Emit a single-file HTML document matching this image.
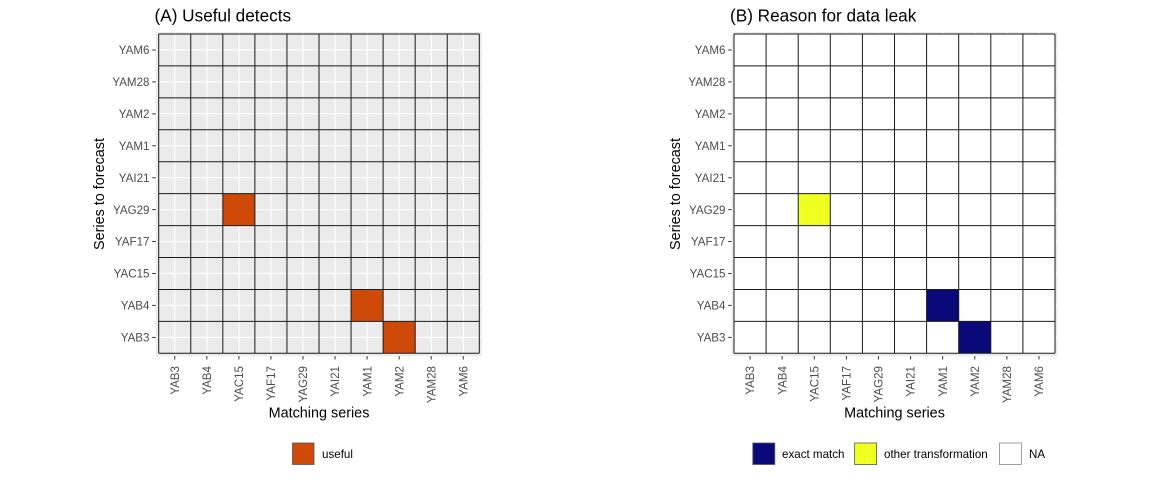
<!DOCTYPE html>
<html><head><meta charset="utf-8"><style>
html,body{margin:0;padding:0;background:#fff;}
svg{display:block;font-family:"Liberation Sans",Arial,sans-serif;}
.tl{font-size:11.6px;fill:#4D4D4D;}
.at{font-size:14.4px;fill:#000;}
.tt{font-size:17.2px;fill:#000;}
.lg{font-size:11.6px;fill:#000;}
</style></head><body>
<svg width="1152" height="480" viewBox="0 0 1152 480" xmlns="http://www.w3.org/2000/svg">
<rect width="1152" height="480" fill="#fff"/>

<!-- ===== Panel A ===== -->
<text class="tt" x="154.5" y="21.5">(A) Useful detects</text>
<rect x="155.7" y="32" width="326.2" height="324" fill="#EBEBEB"/>
<g stroke="#fff" stroke-width="1.1">
<path d="M174.73 32V356M206.79 32V356M238.85 32V356M270.91 32V356M302.97 32V356M335.03 32V356M367.09 32V356M399.15 32V356M431.21 32V356M463.27 32V356"/>
<path d="M155.7 49.97H481.9M155.7 81.9H481.9M155.7 113.83H481.9M155.7 145.76H481.9M155.7 177.69H481.9M155.7 209.62H481.9M155.7 241.55H481.9M155.7 273.48H481.9M155.7 305.41H481.9M155.7 337.34H481.9"/>
</g>
<g fill="#CF4A08">
<rect x="222.82" y="193.65" width="32.06" height="31.93"/>
<rect x="351.06" y="289.44" width="32.06" height="31.93"/>
<rect x="383.12" y="321.37" width="32.06" height="31.93"/>
</g>
<g stroke="#1a1a1a" stroke-width="1" fill="none">
<path d="M158.7 34V353.3M190.76 34V353.3M222.82 34V353.3M254.88 34V353.3M286.94 34V353.3M319 34V353.3M351.06 34V353.3M383.12 34V353.3M415.18 34V353.3M447.24 34V353.3M479.3 34V353.3"/>
<path d="M158.7 34H479.3M158.7 65.93H479.3M158.7 97.86H479.3M158.7 129.79H479.3M158.7 161.72H479.3M158.7 193.65H479.3M158.7 225.58H479.3M158.7 257.51H479.3M158.7 289.44H479.3M158.7 321.37H479.3M158.7 353.3H479.3"/>
</g>
<g stroke="#333" stroke-width="1">
<path d="M152.2 49.97H155.7M152.2 81.9H155.7M152.2 113.83H155.7M152.2 145.76H155.7M152.2 177.69H155.7M152.2 209.62H155.7M152.2 241.55H155.7M152.2 273.48H155.7M152.2 305.41H155.7M152.2 337.34H155.7"/>
<path d="M174.73 356V359.5M206.79 356V359.5M238.85 356V359.5M270.91 356V359.5M302.97 356V359.5M335.03 356V359.5M367.09 356V359.5M399.15 356V359.5M431.21 356V359.5M463.27 356V359.5"/>
</g>
<g class="tl" text-anchor="end">
<text x="149.5" y="49.97" dy="0.36em">YAM6</text>
<text x="149.5" y="81.9" dy="0.36em">YAM28</text>
<text x="149.5" y="113.83" dy="0.36em">YAM2</text>
<text x="149.5" y="145.76" dy="0.36em">YAM1</text>
<text x="149.5" y="177.69" dy="0.36em">YAI21</text>
<text x="149.5" y="209.62" dy="0.36em">YAG29</text>
<text x="149.5" y="241.55" dy="0.36em">YAF17</text>
<text x="149.5" y="273.48" dy="0.36em">YAC15</text>
<text x="149.5" y="305.41" dy="0.36em">YAB4</text>
<text x="149.5" y="337.34" dy="0.36em">YAB3</text>
</g>
<g class="tl" text-anchor="end">
<text transform="translate(174.73,366) rotate(-90)" dy="0.36em">YAB3</text>
<text transform="translate(206.79,366) rotate(-90)" dy="0.36em">YAB4</text>
<text transform="translate(238.85,366) rotate(-90)" dy="0.36em">YAC15</text>
<text transform="translate(270.91,366) rotate(-90)" dy="0.36em">YAF17</text>
<text transform="translate(302.97,366) rotate(-90)" dy="0.36em">YAG29</text>
<text transform="translate(335.03,366) rotate(-90)" dy="0.36em">YAI21</text>
<text transform="translate(367.09,366) rotate(-90)" dy="0.36em">YAM1</text>
<text transform="translate(399.15,366) rotate(-90)" dy="0.36em">YAM2</text>
<text transform="translate(431.21,366) rotate(-90)" dy="0.36em">YAM28</text>
<text transform="translate(463.27,366) rotate(-90)" dy="0.36em">YAM6</text>
</g>
<text class="at" x="319" y="417.5" text-anchor="middle">Matching series</text>
<text class="at" transform="translate(104,194) rotate(-90)" text-anchor="middle">Series to forecast</text>
<rect x="292.5" y="443" width="21.5" height="21.5" fill="#CF4A08" stroke="#555" stroke-width="0.8"/>
<text class="lg" x="322" y="454" dy="0.36em">useful</text>

<!-- ===== Panel B ===== -->
<text class="tt" x="730" y="21.5">(B) Reason for data leak</text>
<rect x="731.7" y="32" width="325.6" height="324" fill="#EBEBEB"/>
<g stroke="#fff" stroke-width="1.1">
<path d="M750.05 32V356M782.15 32V356M814.25 32V356M846.35 32V356M878.45 32V356M910.55 32V356M942.65 32V356M974.75 32V356M1006.85 32V356M1038.95 32V356"/>
<path d="M731.7 49.97H1057.3M731.7 81.9H1057.3M731.7 113.83H1057.3M731.7 145.76H1057.3M731.7 177.69H1057.3M731.7 209.62H1057.3M731.7 241.55H1057.3M731.7 273.48H1057.3M731.7 305.41H1057.3M731.7 337.34H1057.3"/>
</g>
<rect x="734" y="34" width="321" height="319.3" fill="#fff"/>
<rect x="798.2" y="193.65" width="32.1" height="31.93" fill="#EFFF1F"/>
<rect x="926.6" y="289.44" width="32.1" height="31.93" fill="#09097A"/>
<rect x="958.7" y="321.37" width="32.1" height="31.93" fill="#09097A"/>
<g stroke="#1a1a1a" stroke-width="1" fill="none">
<path d="M734 34V353.3M766.1 34V353.3M798.2 34V353.3M830.3 34V353.3M862.4 34V353.3M894.5 34V353.3M926.6 34V353.3M958.7 34V353.3M990.8 34V353.3M1022.9 34V353.3M1055 34V353.3"/>
<path d="M734 34H1055M734 65.93H1055M734 97.86H1055M734 129.79H1055M734 161.72H1055M734 193.65H1055M734 225.58H1055M734 257.51H1055M734 289.44H1055M734 321.37H1055M734 353.3H1055"/>
</g>
<g stroke="#333" stroke-width="1">
<path d="M728.2 49.97H731.7M728.2 81.9H731.7M728.2 113.83H731.7M728.2 145.76H731.7M728.2 177.69H731.7M728.2 209.62H731.7M728.2 241.55H731.7M728.2 273.48H731.7M728.2 305.41H731.7M728.2 337.34H731.7"/>
<path d="M750.05 356V359.5M782.15 356V359.5M814.25 356V359.5M846.35 356V359.5M878.45 356V359.5M910.55 356V359.5M942.65 356V359.5M974.75 356V359.5M1006.85 356V359.5M1038.95 356V359.5"/>
</g>
<g class="tl" text-anchor="end">
<text x="725.5" y="49.97" dy="0.36em">YAM6</text>
<text x="725.5" y="81.9" dy="0.36em">YAM28</text>
<text x="725.5" y="113.83" dy="0.36em">YAM2</text>
<text x="725.5" y="145.76" dy="0.36em">YAM1</text>
<text x="725.5" y="177.69" dy="0.36em">YAI21</text>
<text x="725.5" y="209.62" dy="0.36em">YAG29</text>
<text x="725.5" y="241.55" dy="0.36em">YAF17</text>
<text x="725.5" y="273.48" dy="0.36em">YAC15</text>
<text x="725.5" y="305.41" dy="0.36em">YAB4</text>
<text x="725.5" y="337.34" dy="0.36em">YAB3</text>
</g>
<g class="tl" text-anchor="end">
<text transform="translate(750.05,366) rotate(-90)" dy="0.36em">YAB3</text>
<text transform="translate(782.15,366) rotate(-90)" dy="0.36em">YAB4</text>
<text transform="translate(814.25,366) rotate(-90)" dy="0.36em">YAC15</text>
<text transform="translate(846.35,366) rotate(-90)" dy="0.36em">YAF17</text>
<text transform="translate(878.45,366) rotate(-90)" dy="0.36em">YAG29</text>
<text transform="translate(910.55,366) rotate(-90)" dy="0.36em">YAI21</text>
<text transform="translate(942.65,366) rotate(-90)" dy="0.36em">YAM1</text>
<text transform="translate(974.75,366) rotate(-90)" dy="0.36em">YAM2</text>
<text transform="translate(1006.85,366) rotate(-90)" dy="0.36em">YAM28</text>
<text transform="translate(1038.95,366) rotate(-90)" dy="0.36em">YAM6</text>
</g>
<text class="at" x="894.5" y="417.5" text-anchor="middle">Matching series</text>
<text class="at" transform="translate(680,194) rotate(-90)" text-anchor="middle">Series to forecast</text>
<rect x="752.8" y="443" width="22" height="21.5" fill="#09097A" stroke="#555" stroke-width="0.8"/>
<text class="lg" x="782" y="454" dy="0.36em">exact match</text>
<rect x="854.6" y="443" width="22" height="21.5" fill="#EFFF1F" stroke="#555" stroke-width="0.8"/>
<text class="lg" x="884" y="454" dy="0.36em">other transformation</text>
<rect x="999.4" y="443" width="22" height="21.5" fill="#fff" stroke="#888" stroke-width="0.8"/>
<text class="lg" x="1029" y="454" dy="0.36em">NA</text>
</svg>
</body></html>
